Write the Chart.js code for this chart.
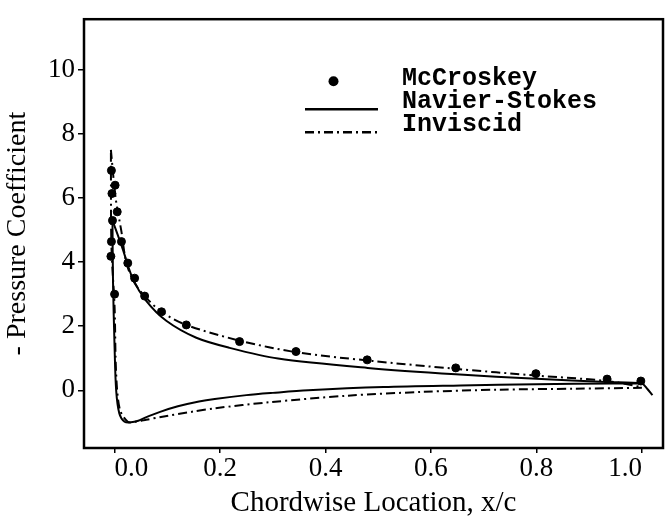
<!DOCTYPE html>
<html lang="en">
<head>
<meta charset="UTF-8">
<title>Pressure Coefficient vs Chordwise Location</title>
<script src="https://cdn.jsdelivr.net/npm/chart.js"></script>
<style>
    html, body { margin: 0; padding: 0; background: #fff; }
    canvas { display: block; }
</style>
</head>
<body>
<canvas id="cpChart" width="668" height="521"></canvas>
<script>
    // axis ticks
    const xTicks = [0.0, 0.2, 0.4, 0.6, 0.8, 1.0];
    const yTicks = [0, 2, 4, 6, 8, 10];

    const mcX = [-0.006, 0.001, -0.005, 0.005, -0.004, -0.006, -0.007, 0.013, 0.025, 0.038, 0.0, 0.057, 0.089, 0.136, 0.237, 0.344, 0.479, 0.647, 0.799, 0.934, 0.998];
    const mcY = [6.86, 6.4, 6.14, 5.57, 5.3, 4.64, 4.18, 4.64, 3.97, 3.5, 3.0, 2.94, 2.45, 2.04, 1.52, 1.21, 0.95, 0.70, 0.52, 0.35, 0.29];

    // Navier-Stokes, lower surface (TE -> LE) and upper surface (LE -> TE)
    const nsLowerX = [1.0, 0.945, 0.80, 0.656, 0.51, 0.367, 0.30, 0.25, 0.19, 0.16, 0.12, 0.085, 0.057, 0.045, 0.031, 0.019, 0.009, 0.003, 0.0, -0.003, -0.004];
    const nsLowerY = [0.21, 0.21, 0.19, 0.15, 0.10, 0.0, -0.08, -0.15, -0.27, -0.35, -0.5, -0.68, -0.86, -0.95, -1.0, -0.98, -0.72, 0.0, 1.34, 3.4, 5.3];
    const nsUpperX = [-0.004, 0.015, 0.034, 0.06, 0.098, 0.155, 0.217, 0.31, 0.48, 0.647, 0.80, 0.934, 1.0, 1.01, 1.02];
    const nsUpperY = [5.3, 4.43, 3.5, 2.79, 2.17, 1.64, 1.33, 0.99, 0.70, 0.50, 0.36, 0.26, 0.21, 0.05, -0.15];

    // Inviscid, lower and upper surface
    const invLowerX = [1.0, 0.873, 0.728, 0.583, 0.44, 0.295, 0.19, 0.15, 0.088, 0.06, 0.04, 0.025, 0.01, 0.003, 0.0, -0.006, -0.007];
    const invLowerY = [0.08, 0.05, 0.02, -0.05, -0.17, -0.37, -0.56, -0.66, -0.83, -0.92, -0.98, -0.98, -0.6, 0.5, 2.6, 4.5, 7.5];
    const invUpperX = [-0.007, 0.002, 0.013, 0.022, 0.036, 0.057, 0.089, 0.136, 0.237, 0.344, 0.48, 0.647, 0.80, 0.934, 1.0];
    const invUpperY = [7.5, 6.0, 4.95, 4.0, 3.4, 2.94, 2.45, 2.04, 1.55, 1.19, 0.93, 0.67, 0.46, 0.29, 0.1];

    const legendNames = ['McCroskey', 'Navier-Stokes', 'Inviscid'];

    const dashDot = [9, 4, 2, 4];

    function pts(xs, ys) {
        return xs.map((x, i) => ({ x: x, y: ys[i] }));
    }

    // box around the plot area
    const framePlugin = {
        id: 'frame',
        afterDraw(chart) {
            const { ctx, chartArea: a } = chart;
            ctx.save();
            ctx.strokeStyle = '#000';
            ctx.lineWidth = 2.5;
            ctx.strokeRect(a.left, a.top, a.right - a.left, a.bottom - a.top);
            ctx.restore();
        }
    };

    // legend drawn inside the plot, one row per series
    const insideLegend = {
        id: 'insideLegend',
        afterDraw(chart) {
            const ctx = chart.ctx;
            const a = chart.chartArea;
            const sx0 = a.left + 221, sx1 = a.left + 294, tx = a.left + 318;
            const rows = [a.top + 60, a.top + 83, a.top + 106];
            ctx.save();
            ctx.font = 'bold 25px "Liberation Mono"';
            ctx.textBaseline = 'middle';
            ctx.fillStyle = '#000';
            ctx.strokeStyle = '#000';
            legendNames.forEach((name, i) => {
                const y = rows[i];
                if (i === 0) {
                    ctx.beginPath();
                    ctx.arc((sx0 + sx1) / 2 - 8, y + 2, 5, 0, Math.PI * 2);
                    ctx.fill();
                } else {
                    ctx.lineWidth = 2.5;
                    ctx.setLineDash(i === 2 ? dashDot : []);
                    ctx.beginPath();
                    ctx.moveTo(sx0, y + 7);
                    ctx.lineTo(sx1, y + 7);
                    ctx.stroke();
                    ctx.setLineDash([]);
                }
                ctx.fillText(name, tx, y);
            });
            ctx.restore();
        }
    };

    const lineStyle = (data, dash) => ({
        type: 'line',
        data: data,
        borderColor: '#000',
        borderWidth: 2,
        borderDash: dash,
        pointRadius: 0,
        tension: 0.3,
        fill: false
    });

    const serif = 'Liberation Serif';

    new Chart(document.getElementById('cpChart'), {
        type: 'scatter',
        data: {
            datasets: [
                lineStyle(pts(nsLowerX, nsLowerY), []),
                lineStyle(pts(nsUpperX, nsUpperY), []),
                lineStyle(pts(invLowerX, invLowerY), dashDot),
                lineStyle(pts(invUpperX, invUpperY), dashDot),
                {
                    data: pts(mcX, mcY),
                    backgroundColor: '#000',
                    borderColor: '#000',
                    pointRadius: 4,
                    showLine: false
                }
            ]
        },
        options: {
            responsive: false,
            animation: false,
            devicePixelRatio: 1,
            layout: { padding: { top: 16, right: 2, left: 0, bottom: 0 } },
            plugins: {
                legend: { display: false },
                tooltip: { enabled: false }
            },
            scales: {
                x: {
                    type: 'linear',
                    min: -0.058,
                    max: 1.04,
                    afterBuildTicks: s => { s.ticks = xTicks.map(v => ({ value: v })); },
                    afterFit: s => { s.height = 73; },
                    ticks: {
                        align: 'inner',
                        autoSkip: false,
                        maxRotation: 0,
                        padding: 0,
                        color: '#000',
                        font: { family: serif, size: 27 },
                        callback: v => v.toFixed(1)
                    },
                    grid: { display: true, drawOnChartArea: false, tickLength: 5, color: '#000', lineWidth: 1.5 },
                    border: { display: false },
                    title: {
                        display: true,
                        text: 'Chordwise Location, x/c',
                        color: '#000',
                        font: { family: serif, size: 29 },
                        padding: 0
                    }
                },
                y: {
                    type: 'linear',
                    min: -1.8,
                    max: 11.58,
                    afterBuildTicks: s => { s.ticks = yTicks.map(v => ({ value: v })); },
                    afterFit: s => { s.width = 84; },
                    ticks: {
                        padding: 3,
                        color: '#000',
                        font: { family: serif, size: 27 },
                        callback: v => String(v)
                    },
                    grid: { display: true, drawOnChartArea: false, tickLength: 6, color: '#000', lineWidth: 1.5 },
                    border: { display: false },
                    title: {
                        display: true,
                        text: '- Pressure Coefficient',
                        color: '#000',
                        font: { family: serif, size: 28 },
                        padding: { top: 1, bottom: 0 }
                    }
                }
            }
        },
        plugins: [framePlugin, insideLegend]
    });
</script>
</body>
</html>
